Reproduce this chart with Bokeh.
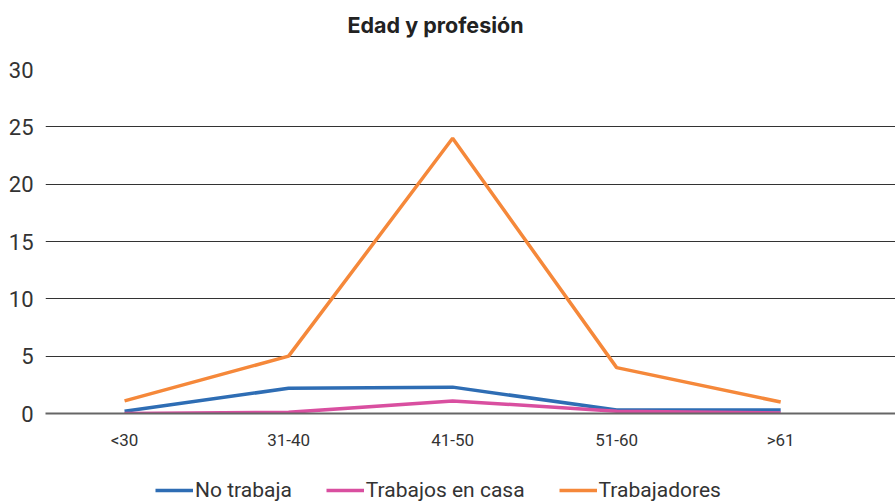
from bokeh.plotting import figure
from bokeh.layouts import column
from bokeh.models import Range1d, FixedTicker, Legend, LegendItem, Title
from bokeh.embed import file_html
from bokeh.resources import INLINE

categories = ["<30", "31-40", "41-50", "51-60", ">61"]
no_trabaja = [0.2, 2.2, 2.3, 0.3, 0.3]
trabajos_casa = [0.0, 0.1, 1.1, 0.2, 0.05]
trabajadores = [1.1, 5.0, 24.0, 4.0, 1.0]
y_ticks = [0, 5, 10, 15, 20, 25, 30]
series = [("No trabaja", no_trabaja, "#2E6DB4"),
          ("Trabajos en casa", trabajos_casa, "#D94FA0"),
          ("Trabajadores", trabajadores, "#F5883A")]

xs = list(range(len(categories)))

p = figure(width=895, height=475, output_backend="svg", toolbar_location=None,
           x_range=Range1d(-0.482, 4.70), y_range=Range1d(0, 30),
           min_border_left=45, min_border_right=0, min_border_top=10,
           min_border_bottom=62)
p.outline_line_color = None
p.background_fill_color = "white"

p.title.text = "Edad y profesión"
p.title.align = "left"
p.title.offset = 302
p.title.text_font = "Inter"
p.title.text_font_style = "bold"
p.title.text_font_size = "21.5px"
p.title.text_color = "#222222"
p.title.standoff = 18
# spacer between title and plot area
p.add_layout(Title(text=" ", text_font_size="10px", standoff=10), "above")

for name, vals, col in series:
    p.line(xs, vals, line_color=col, line_width=3.5)

p.xaxis.ticker = FixedTicker(ticks=xs)
p.xaxis.major_label_overrides = {i: c for i, c in enumerate(categories)}
p.xaxis.major_tick_line_color = None
p.xaxis.minor_tick_line_color = None
p.xaxis.axis_line_color = "#666666"
p.xaxis.axis_line_width = 2
p.xaxis.major_label_text_font = "Roboto"
p.xaxis.major_label_text_font_size = "17px"
p.xaxis.major_label_text_color = "#333333"
p.xaxis.major_label_standoff = 10

p.yaxis.ticker = FixedTicker(ticks=y_ticks)
p.yaxis.axis_line_color = None
p.yaxis.major_tick_line_color = None
p.yaxis.minor_tick_line_color = None
p.yaxis.major_label_text_font = "Roboto"
p.yaxis.major_label_text_font_size = "22px"
p.yaxis.major_label_text_color = "#333333"
p.yaxis.major_label_standoff = 6

p.xgrid.grid_line_color = None
p.ygrid.ticker = FixedTicker(ticks=y_ticks)
p.ygrid.grid_line_color = "#333333"
p.ygrid.grid_line_width = 1

# legend strip
p2 = figure(width=895, height=27, output_backend="svg", toolbar_location=None,
            x_range=Range1d(0, 4), y_range=Range1d(1000, 1001),
            x_axis_type=None, y_axis_type=None,
            min_border_left=0, min_border_right=0, min_border_top=0,
            min_border_bottom=0)
p2.outline_line_color = None
p2.xgrid.grid_line_color = None
p2.ygrid.grid_line_color = None
items = []
for name, vals, col in series:
    r = p2.line(xs, vals, line_color=col, line_width=3.5)
    items.append(LegendItem(label=name, renderers=[r]))

legend = Legend(items=items, orientation="horizontal", location=(110, 0),
                label_text_font="Roboto", label_text_font_size="21px",
                label_text_color="#333333", glyph_width=38, spacing=34,
                label_standoff=2, border_line_color=None,
                background_fill_alpha=0, margin=0, padding=0)
p2.add_layout(legend, "center")

layout = column(p, p2, spacing=0)
open("out.html", "w").write(file_html(layout, INLINE))
